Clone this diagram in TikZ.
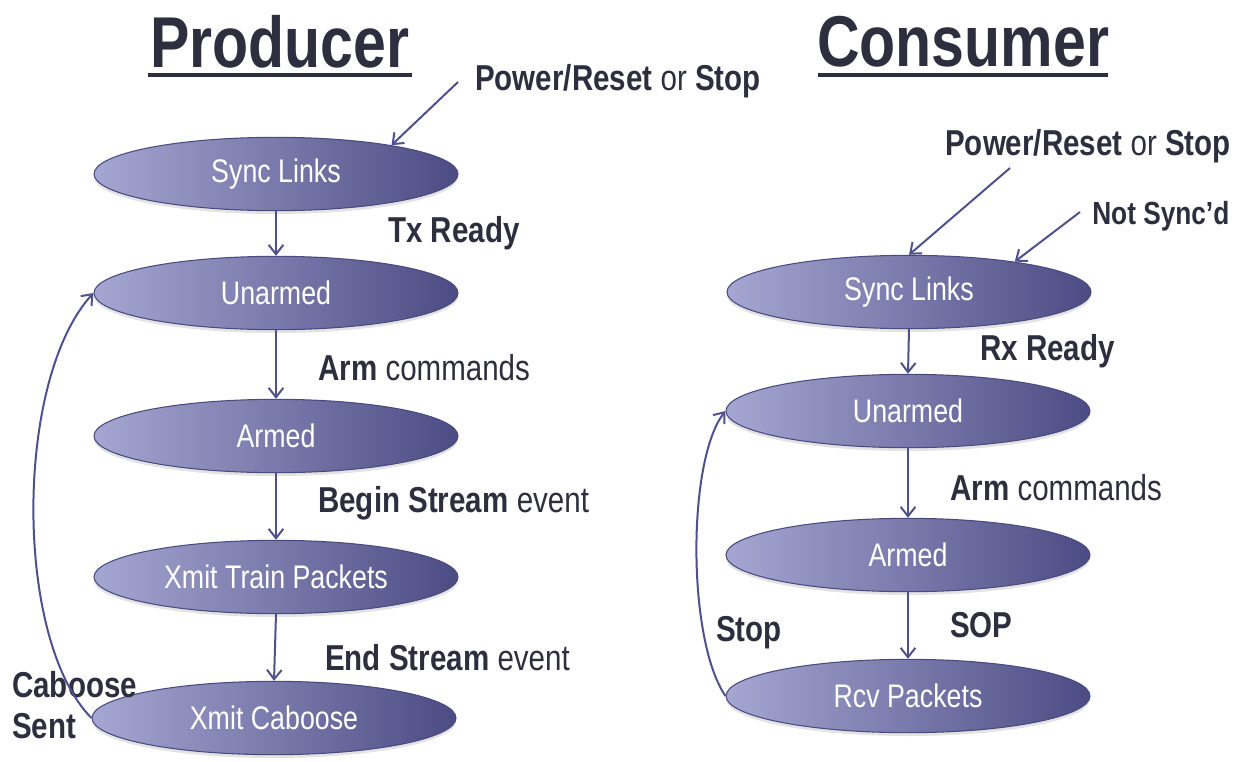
\documentclass[tikz,border=0pt]{standalone}
\usepackage{fontspec}
\setmainfont{Liberation Sans}[FakeStretch=0.82]
\usetikzlibrary{shapes.geometric,arrows.meta,shadows}
\definecolor{txt}{HTML}{2E2E3E}
\definecolor{arrc}{HTML}{50508C}
\definecolor{elll}{HTML}{A6A6D2}
\definecolor{ellr}{HTML}{4C4C84}
\definecolor{elle}{HTML}{4A4A80}
\tikzset{
  state/.style={ellipse, draw=elle, line width=0.8pt, left color=elll, right color=ellr,
    minimum width=273pt, minimum height=55pt, inner sep=0pt, text=white,
    font=\fontsize{24.5}{28}\selectfont,
    drop shadow={shadow xshift=0pt, shadow yshift=-2.5pt, opacity=0.22, fill=gray}},
  lbl/.style={anchor=west, text=txt, inner sep=0pt, font=\fontsize{27}{31}\selectfont},
  ttl/.style={text=txt, inner sep=0pt, font=\fontsize{54}{60}\selectfont\bfseries},
  arr/.style={draw=arrc, line width=1.5pt, -{Straight Barb[length=7pt,width=11pt,line width=1.5pt]}},
}
\begin{document}
\begin{tikzpicture}[x=0.75pt,y=-0.75pt]
\useasboundingbox (0,0) rectangle (1235,761);
% titles
\node[ttl] (tp) at (280,42) {Producer};
\node[ttl] (tc) at (963,42) {Consumer};
\draw[txt, line width=2.4pt] (148,75) -- (412,75);
\draw[txt, line width=2.4pt] (818,75) -- (1108,75);
% producer states
\node[state] (ps) at (276,174) {Sync Links};
\node[state] (pu) at (276,293) {Unarmed};
\node[state] (pa) at (276,436) {Armed};
\node[state] (px) at (276,577) {Xmit Train Packets};
\node[state] (pc) at (274,718) {Xmit Caboose};
% consumer states
\node[state] (cs) at (909,292) {Sync Links};
\node[state] (cu) at (908,411) {Unarmed};
\node[state] (ca) at (908,555) {Armed};
\node[state] (cr) at (908,696) {Rcv Packets};
% producer labels
\node[lbl] (lp1) at (475,81) {\textbf{Power/Reset} or \textbf{Stop}};
\node[lbl] (lp2) at (388,233) {\textbf{Tx Ready}};
\node[lbl] (lp3) at (318,368) {\textbf{Arm} commands};
\node[lbl] (lp4) at (318,503) {\textbf{Begin Stream} event};
\node[lbl] (lp5) at (325,658) {\textbf{End Stream} event};
\node[lbl] (lp6) at (12,685) {\textbf{Caboose}};
\node[lbl] (lp7) at (12,726) {\textbf{Sent}};
% consumer labels
\node[lbl] (lc1) at (945,146) {\textbf{Power/Reset} or \textbf{Stop}};
\node[lbl, font=\fontsize{24}{28}\selectfont] (lc2) at (1092,216) {\textbf{Not Sync’d}};
\node[lbl] (lc3) at (980,351) {\textbf{Rx Ready}};
\node[lbl] (lc4) at (950,488) {\textbf{Arm} commands};
\node[lbl] (lc5) at (716,633) {\textbf{Stop}};
\node[lbl] (lc6) at (950,625) {\textbf{SOP}};
% producer arrows
\coordinate (pp) at (458,82);
\draw[arr] (pp) -- (ps.14);
\draw[arr] (ps.south) -- (pu.north);
\draw[arr] (pu.south) -- (pa.north);
\draw[arr] (pa.south) -- (px.north);
\draw[arr] (px.south) -- (pc.north);
\draw[arr] (pc.west) .. controls (14,640) and (14,380) .. (pu.west);
% consumer arrows
\coordinate (cp) at (1010,168);
\coordinate (cn) at (1080,212);
\draw[arr] (cp) -- (cs.north);
\draw[arr] (cn) -- (cs.16);
\draw[arr] (cs.south) -- (cu.north);
\draw[arr] (cu.south) -- (ca.north);
\draw[arr] (ca.south) -- (cr.north);
\draw[arr] (cr.west) .. controls (687,640) and (687,460) .. (cu.west);
\end{tikzpicture}
\end{document}
